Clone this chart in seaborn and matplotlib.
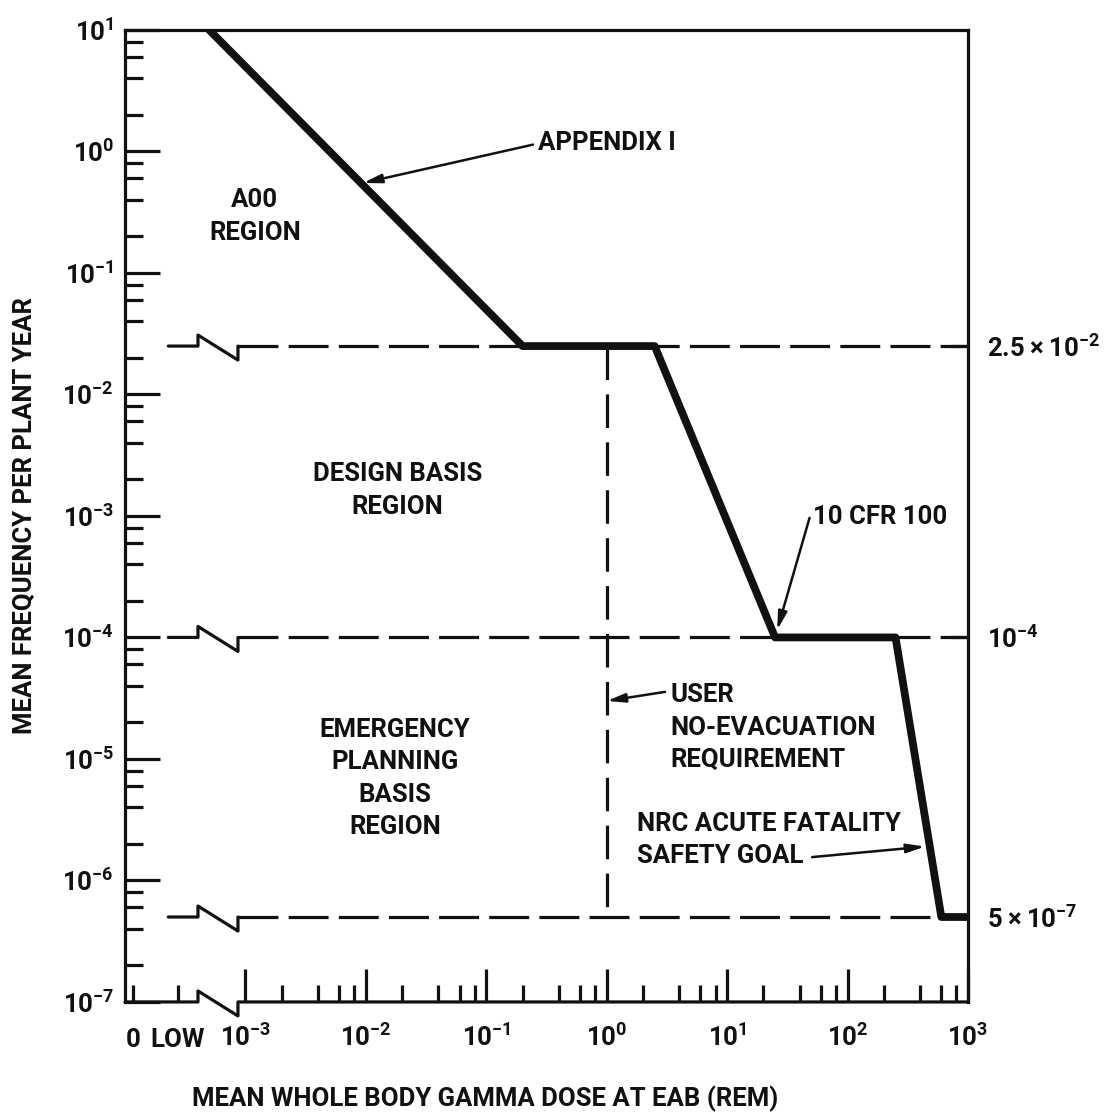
import numpy as np
import pandas as pd
import matplotlib
matplotlib.use("Agg")
import matplotlib.pyplot as plt
from matplotlib import ticker
import seaborn as sns

sns.set_theme(style="ticks")
plt.rcParams["font.family"] = ["Roboto", "DejaVu Sans"]
plt.rcParams["font.weight"] = "bold"

# ---- values ----
dose = [5e-4, 0.2, 2.5, 25, 250, 600, 1000]            # rem at EAB
freq = [10, 2.5e-2, 2.5e-2, 1e-4, 1e-4, 5e-7, 5e-7]    # per plant year
limits = [2.5e-2, 1e-4, 5e-7]
limit_labels = [r"$\mathregular{2.5\times10^{-2}}$", r"$\mathregular{10^{-4}}$",
                r"$\mathregular{5\times10^{-7}}$"]
no_evac_dose = 1.0

x_decades = [1e-3, 1e-2, 1e-1, 1e0, 1e1, 1e2, 1e3]
x_labels = [r"$\mathregular{10^{-3}}$", r"$\mathregular{10^{-2}}$",
            r"$\mathregular{10^{-1}}$", r"$\mathregular{10^{0}}$",
            r"$\mathregular{10^{1}}$", r"$\mathregular{10^{2}}$",
            r"$\mathregular{10^{3}}$"]
y_decades = [1e-7, 1e-6, 1e-5, 1e-4, 1e-3, 1e-2, 1e-1, 1e0, 1e1]
y_labels = [r"$\mathregular{10^{-7}}$", r"$\mathregular{10^{-6}}$",
            r"$\mathregular{10^{-5}}$", r"$\mathregular{10^{-4}}$",
            r"$\mathregular{10^{-3}}$", r"$\mathregular{10^{-2}}$",
            r"$\mathregular{10^{-1}}$", r"$\mathregular{10^{0}}$",
            r"$\mathregular{10^{1}}$"]

# fake positions left of the axis break
X_ZERO = 10 ** -3.93
X_LOW = 10 ** -3.56
BRK0, BRK1 = 10 ** -3.394, 10 ** -3.062
STUB = 10 ** -3.64

FS = 18.5
LW = 2.3
BLACK = "#111111"

fig = plt.figure(figsize=(11.19, 11.16), dpi=100)
ax = fig.add_axes([0.1117, 0.1022, 0.7534, 0.8710])
ax.set_xscale("log")
ax.set_yscale("log")
ax.set_xlim(1e-4, 1e3)
ax.set_ylim(1e-7, 1e1)

df = pd.DataFrame({"dose": dose, "freq": freq})
sns.lineplot(data=df, x="dose", y="freq", sort=False, estimator=None,
             color=BLACK, lw=5.6, solid_joinstyle="round", ax=ax, zorder=5)

# dashed limit lines with the broken-axis zigzag
dash = (0, (12.5, 3.2))
up, down = 10 ** (11 / 121.5), 10 ** (-14 / 121.5)
for y0 in limits:
    ax.plot([BRK1, 1e3], [y0, y0], color=BLACK, lw=LW, linestyle=dash, zorder=3)
    ax.plot([STUB, BRK0, BRK0, BRK1, BRK1], [y0, y0, y0 * up, y0 * down, y0],
            color=BLACK, lw=LW, zorder=3)
ax.plot([no_evac_dose, no_evac_dose], [limits[0], limits[2]], color=BLACK,
        lw=LW, linestyle=(0, (10.5, 4.5)), zorder=3)

# bottom spine with break
ax.spines["bottom"].set_visible(False)
ybot = 1e-7
ax.plot([1e-4, BRK0, BRK0, BRK1, BRK1, 1e3],
        [ybot, ybot, ybot * up, ybot * down, ybot, ybot],
        color=BLACK, lw=LW, clip_on=False, zorder=6)
for s in ["left", "right", "top"]:
    ax.spines[s].set_linewidth(LW)
    ax.spines[s].set_color(BLACK)

# ticks
ax.xaxis.set_major_locator(ticker.FixedLocator(x_decades))
ax.xaxis.set_major_formatter(ticker.FixedFormatter(x_labels))
x_minor = [X_ZERO, X_LOW] + [m * 10.0 ** k for k in range(-3, 3) for m in (2, 4, 6, 8)]
ax.xaxis.set_minor_locator(ticker.FixedLocator(x_minor))


def minor_fmt(v, pos):
    if np.isclose(v, X_ZERO):
        return "0"
    if np.isclose(v, X_LOW):
        return "LOW"
    return ""


ax.xaxis.set_minor_formatter(ticker.FuncFormatter(minor_fmt))
ax.yaxis.set_major_locator(ticker.FixedLocator(y_decades))
ax.yaxis.set_major_formatter(ticker.FixedFormatter(y_labels))
y_minor = [m * 10.0 ** k for k in range(-7, 1) for m in (2, 4, 6, 8)]
ax.yaxis.set_minor_locator(ticker.FixedLocator(y_minor))

ax.tick_params(which="both", direction="in", width=LW, color=BLACK,
               labelsize=FS, labelcolor=BLACK, top=False, right=False)
ax.tick_params(axis="y", which="major", length=25, pad=8)
ax.tick_params(axis="y", which="minor", length=13, pad=8)
ax.tick_params(axis="x", which="major", length=24, pad=16)
ax.tick_params(axis="x", which="minor", length=12, pad=19)

ax2 = ax.twinx()
ax2.set_yscale("log")
ax2.set_ylim(1e-7, 1e1)
ax2.yaxis.set_major_locator(ticker.FixedLocator(limits))
ax2.yaxis.set_major_formatter(ticker.FixedFormatter(limit_labels))
ax2.yaxis.set_minor_locator(ticker.NullLocator())
ax2.tick_params(axis="y", direction="in", length=13, width=LW, color=BLACK,
                pad=14, labelsize=FS, labelcolor=BLACK)
for s in ax2.spines.values():
    s.set_visible(False)

ax.set_xlabel("MEAN WHOLE BODY GAMMA DOSE AT EAB (REM)", fontsize=FS,
              fontweight="bold", color=BLACK)
ax.set_ylabel("MEAN FREQUENCY PER PLANT YEAR", fontsize=FS,
              fontweight="bold", color=BLACK)
ax.xaxis.set_label_coords(0.427, -0.086)
ax.yaxis.set_label_coords(-0.105, 0.5)

# region labels
txt = dict(fontsize=FS, fontweight="bold", color=BLACK, transform=ax.transAxes,
           linespacing=1.45)
ax.text(0.154, 0.808, "A00\nREGION", ha="center", va="center", **txt)
ax.text(0.323, 0.526, "DESIGN BASIS\nREGION", ha="center", va="center", **txt)
ax.text(0.320, 0.230, "EMERGENCY\nPLANNING\nBASIS\nREGION", ha="center",
        va="center", **txt)
ax.text(0.4894, 0.884, "APPENDIX I", ha="left", va="center", **txt)
ax.text(0.8165, 0.499, "10 CFR 100", ha="left", va="center", **txt)
ax.text(0.6465, 0.282, "USER\nNO-EVACUATION\nREQUIREMENT", ha="left",
        va="center", **txt)
ax.text(0.607, 0.1667, "NRC ACUTE FATALITY\nSAFETY GOAL", ha="left",
        va="center", **txt)

arrow = dict(arrowstyle="-|>,head_length=0.9,head_width=0.22", color=BLACK,
             lw=1.8, shrinkA=0, shrinkB=0)
ax.annotate("", xy=(0.0095, 0.55), xycoords="data", xytext=(0.484, 0.882),
            textcoords="axes fraction", arrowprops=arrow)
ax.annotate("", xy=(26, 1.15e-4), xycoords="data", xytext=(0.812, 0.498),
            textcoords="axes fraction", arrowprops=arrow)
ax.annotate("", xy=(1.0, 3.0e-5), xycoords="data", xytext=(0.6406, 0.319),
            textcoords="axes fraction", arrowprops=arrow)
ax.annotate("", xy=(440, 1.9e-6), xycoords="data", xytext=(0.815, 0.149),
            textcoords="axes fraction", arrowprops=arrow)

fig.savefig("out.png", dpi=100)
